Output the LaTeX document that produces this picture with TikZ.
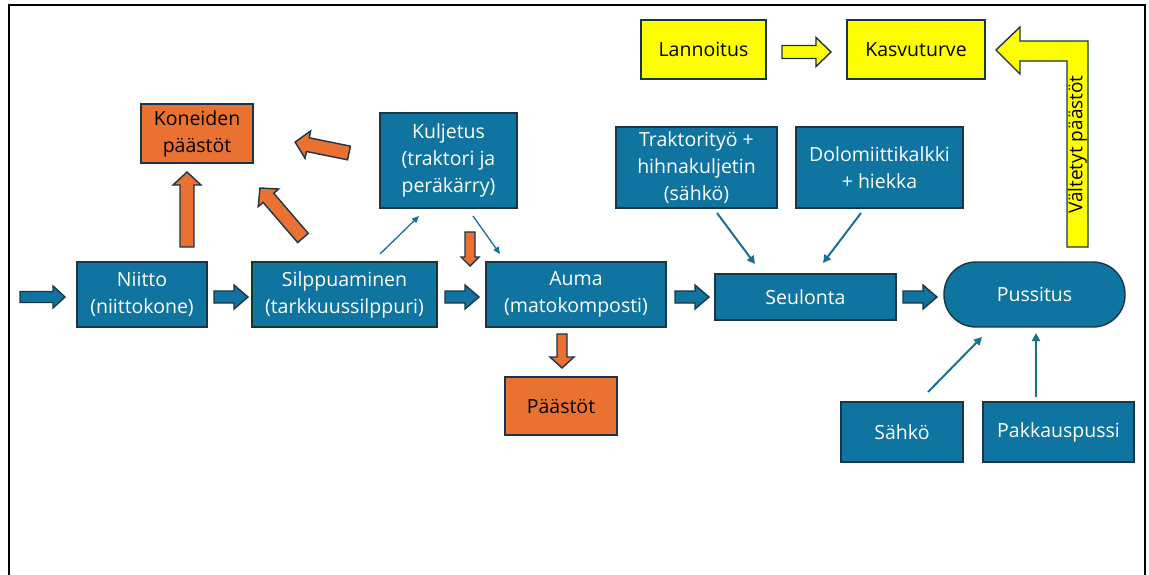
\documentclass[tikz,border=0pt]{standalone}
\usepackage{fontspec}
\setmainfont{Open Sans}
\usetikzlibrary{arrows.meta,calc}
\definecolor{boxblue}{HTML}{0F75A0}
\definecolor{edge}{HTML}{1B3547}
\definecolor{greenedge}{HTML}{123A20}
\definecolor{emis}{HTML}{E97132}
\definecolor{hilite}{HTML}{FFFF00}
\definecolor{thinblue}{HTML}{1A6F93}
\begin{document}
\begin{tikzpicture}[x=1pt,y=-1pt,
  font=\fontsize{19.5}{27}\selectfont,
  box/.style={draw=edge, line width=1.4pt, align=center, inner sep=0pt, outer sep=0pt},
  bluebox/.style={box, fill=boxblue, text=white},
  orangebox/.style={box, fill=emis, text=black},
  yellowbox/.style={box, fill=hilite, text=black},
  % block arrow from its tail at the origin along +x:
  % length, half shaft width, half head width, head length, fill colour
  pics/blockarrow/.style n args={5}{code={
    \draw[fill=#5, draw=edge, line width=1.4pt, line join=miter]
      (0,-#2) -- ({#1-#4},-#2) -- ({#1-#4},-#3) -- (#1,0)
      -- ({#1-#4},#3) -- ({#1-#4},#2) -- (0,#2) -- cycle;
  }},
  link/.style={draw=thinblue, line width=2pt, -{Triangle[length=8pt,width=8pt]}},
  thinlink/.style={draw=thinblue, line width=1.3pt, -{Triangle[length=7pt,width=6pt]}}
]
\useasboundingbox (0,0) rectangle (1149,574);

% outer frame (open at the bottom)
\draw[black, line width=2pt] (9,580) -- (9,5) -- (1145,5) -- (1145,580);

% main process chain
\node[bluebox, minimum width=130, minimum height=65] (niitto) at (142,294.5) {Niitto\\(niittokone)};
\node[bluebox, draw=greenedge, minimum width=185, minimum height=65] (silppu) at (344.5,294.5) {Silppuaminen\\(tarkkuussilppuri)};
\node[bluebox, minimum width=180, minimum height=65] (auma) at (576,294.5) {Auma\\(matokomposti)};
\node[bluebox, minimum width=181, minimum height=46] (seulonta) at (805.5,297) {Seulonta};
\node[bluebox, rounded corners=32pt, minimum width=181, minimum height=65] (pussitus) at (1034.5,294.5) {Pussitus};

% inputs
\node[bluebox, minimum width=137, minimum height=95] (kuljetus) at (448.5,160.5) {Kuljetus\\(traktori ja\\peräkärry)};
\node[bluebox, minimum width=161, minimum height=81] (traktori) at (696.5,167.5) {Traktorityö +\\hihnakuljetin\\(sähkö)};
\node[bluebox, minimum width=167, minimum height=81] (dolomiitti) at (879.5,167.5) {Dolomiittikalkki\\+ hiekka};
\node[bluebox, minimum width=122, minimum height=60] (sahko) at (902,432) {Sähkö};
\node[bluebox, minimum width=151, minimum height=60] (pakkaus) at (1058.5,432) {Pakkauspussi};

% emissions
\node[orangebox, minimum width=112, minimum height=59] (koneet) at (197,133.5) {Koneiden\\päästöt};
\node[orangebox, minimum width=112, minimum height=58] (paastot) at (561,406) {Päästöt};

% substituted products
\node[yellowbox, minimum width=125, minimum height=59] (lannoitus) at (703.5,49.5) {Lannoitus};
\node[yellowbox, minimum width=138, minimum height=59] (kasvuturve) at (916,49.5) {Kasvuturve};

% block arrows along the chain
\pic (a0) at ($(niitto.west)+(-57,2.5)$) {blockarrow={45}{5.5}{11}{12}{boxblue}};
\pic (a1) at ($(niitto.east)+(7,2.5)$) {blockarrow={34}{6}{12}{14}{boxblue}};
\pic (a2) at ($(silppu.east)+(8,2.5)$) {blockarrow={34}{6}{12}{14}{boxblue}};
\pic (a3) at ($(auma.east)+(9,2.5)$) {blockarrow={34}{6}{12}{14}{boxblue}};
\pic (a4) at ($(seulonta.east)+(7,0)$) {blockarrow={34}{6}{12}{14}{boxblue}};

% emission arrows
\pic[rotate=90] (e1) at ($(koneet.south)+(-10,84)$) {blockarrow={75}{7}{14}{13}{emis}};
\pic[rotate=130.7] (e2) at ($(silppu.north west)+(51,-24)$) {blockarrow={66}{7}{13.5}{13}{emis}};
\pic[rotate=168.5] (e3) at ($(kuljetus.west)+(-31,-7.5)$) {blockarrow={55}{7}{14}{13}{emis}};
\pic[rotate=-90] (e4) at ($(auma.north west)+(-16,-30)$) {blockarrow={34}{5}{9}{9}{emis}};
\pic[rotate=-90] (e5) at ($(paastot.north)+(1,-43)$) {blockarrow={34}{5}{12}{11}{emis}};

% Lannoitus -> Kasvuturve
\pic (y1) at ($(lannoitus.east)+(16,2.5)$) {blockarrow={49}{6.5}{14.5}{15}{hilite}};

% avoided emissions: bent arrow back into Kasvuturve
\draw[fill=hilite, draw=edge, line width=1.4pt, line join=miter]
  (996,50) -- (1020,27) -- (1020,41) -- (1088,41) -- (1088,247)
  -- (1067,247) -- (1067,61) -- (1020,61) -- (1020,74) -- cycle;
\node[rotate=90, text=black, font=\fontsize{19}{22}\selectfont, inner sep=0pt] (valtetyt) at (1077.5,144.5) {Vältetyt päästöt};

% thin connectors
\coordinate (s1) at ($(silppu.north)+(35.5,-8)$);
\coordinate (k1) at ($(kuljetus.south)+(-29.5,8)$);
\coordinate (k2) at ($(kuljetus.south)+(24.5,8)$);
\coordinate (u1) at ($(auma.north west)+(14,-8)$);
\coordinate (t1) at ($(traktori.south)+(20.5,5)$);
\coordinate (t2) at ($(seulonta.north)+(-50.5,-10)$);
\coordinate (d1) at ($(dolomiitti.south)+(-18.5,5)$);
\coordinate (d2) at ($(seulonta.north)+(17.5,-11)$);
\coordinate (h1) at ($(sahko.north)+(26,-10)$);
\coordinate (h2) at ($(pussitus.south)+(-52.5,10)$);
\coordinate (p1) at ($(pakkaus.north)+(-22.5,-5)$);
\coordinate (p2) at ($(pussitus.south)+(1.5,6)$);

\draw[thinlink] (s1) -- (k1);
\draw[thinlink] (k2) -- (u1);
\draw[link] (t1) -- (t2);
\draw[link] (d1) -- (d2);
\draw[link] (h1) -- (h2);
\draw[link] (p1) -- (p2);
\end{tikzpicture}
\end{document}
